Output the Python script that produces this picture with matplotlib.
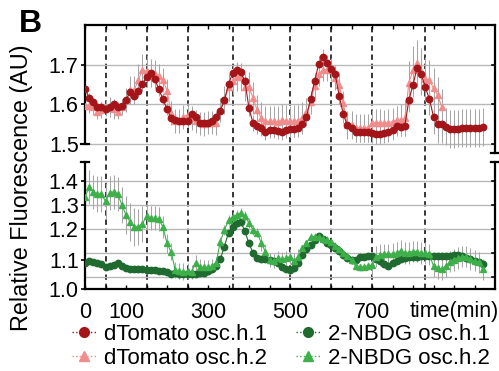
import numpy as np
import matplotlib
matplotlib.use('Agg')
import matplotlib.pyplot as plt
from matplotlib.lines import Line2D
import matplotlib.transforms as mtrans

plt.rcParams['font.family'] = ['Liberation Sans', 'DejaVu Sans']

# ---------------- data ----------------
time = np.arange(0, 980, 10)  # sampling grid (min)

tomato_h1 = [1.640, 1.617, 1.605, 1.594, 1.594, 1.589, 1.593, 1.600, 1.594, 1.596,
             1.611, 1.631, 1.622, 1.635, 1.651, 1.670, 1.679, 1.665, 1.638, 1.614,
             1.588, 1.565, 1.561, 1.558, 1.558, 1.559, 1.575, 1.568, 1.554, 1.552,
             1.552, 1.559, 1.567, 1.584, 1.611, 1.651, 1.679, 1.688, 1.681, 1.659,
             1.590, 1.552, 1.546, 1.540, 1.531, 1.534, 1.535, 1.533, 1.531, 1.535,
             1.538, 1.538, 1.541, 1.551, 1.567, 1.613, 1.659, 1.702, 1.719, 1.704,
             1.690, 1.677, 1.622, 1.575, 1.547, 1.541, 1.531, 1.530, 1.530, 1.530,
             1.527, 1.524, 1.524, 1.527, 1.531, 1.535, 1.546, 1.544, 1.546, 1.611,
             1.650, 1.692, 1.677, 1.643, 1.614, 1.569, 1.551, 1.550, 1.544, 1.537,
             1.537, 1.539, 1.541, 1.540, 1.541, 1.541, 1.541, 1.543]
tomato_h1_err = [0.012, 0.012, 0.012, 0.013, 0.012, 0.012, 0.013, 0.012, 0.012, 0.013,
                 0.015, 0.016, 0.015, 0.016, 0.018, 0.020, 0.020, 0.018, 0.016, 0.015,
                 0.015, 0.015, 0.014, 0.014, 0.015, 0.015, 0.015, 0.015, 0.015, 0.015,
                 0.015, 0.015, 0.015, 0.016, 0.018, 0.020, 0.020, 0.020, 0.018, 0.018,
                 0.020, 0.020, 0.020, 0.020, 0.020, 0.020, 0.020, 0.020, 0.020, 0.020,
                 0.020, 0.020, 0.020, 0.020, 0.020, 0.020, 0.020, 0.020, 0.020, 0.020,
                 0.020, 0.020, 0.022, 0.022, 0.022, 0.025, 0.025, 0.025, 0.025, 0.025,
                 0.025, 0.025, 0.025, 0.025, 0.025, 0.025, 0.025, 0.025, 0.025, 0.030,
                 0.030, 0.030, 0.030, 0.035, 0.040, 0.045, 0.048, 0.048, 0.048, 0.048,
                 0.048, 0.048, 0.048, 0.048, 0.048, 0.048, 0.048, 0.048]

tomato_h2 = [1.597, 1.597, 1.593, 1.582, 1.586, 1.590, 1.594, 1.589, 1.582, 1.594,
             1.611, 1.636, 1.636, 1.662, 1.687, 1.685, 1.679, 1.677, 1.672, 1.662,
             1.635, 1.578, 1.558, 1.558, 1.569, 1.573, 1.565, 1.557, 1.552, 1.551,
             1.554, 1.554, 1.552, 1.586, 1.611, 1.643, 1.659, 1.670, 1.670, 1.643,
             1.643, 1.616, 1.585, 1.565, 1.557, 1.557, 1.557, 1.555, 1.560, 1.558,
             1.557, 1.558, 1.558, 1.565, 1.580, 1.605, 1.647, 1.677, 1.688, 1.688,
             1.688, 1.666, 1.649, 1.603, 1.548, 1.548, 1.541, 1.541, 1.541, 1.541,
             1.552, 1.554, 1.554, 1.552, 1.554, 1.556, 1.560, 1.560, 1.565, 1.655,
             1.687, 1.704, 1.683, 1.664, 1.662, 1.641, 1.624, 1.594]
tomato_h2_err = [0.020, 0.020, 0.020, 0.020, 0.020, 0.020, 0.025, 0.025, 0.020, 0.020,
                 0.030, 0.035, 0.035, 0.040, 0.040, 0.040, 0.035, 0.035, 0.030, 0.030,
                 0.030, 0.030, 0.030, 0.030, 0.030, 0.030, 0.030, 0.030, 0.030, 0.030,
                 0.030, 0.030, 0.030, 0.030, 0.035, 0.035, 0.035, 0.035, 0.035, 0.035,
                 0.040, 0.040, 0.040, 0.040, 0.040, 0.040, 0.040, 0.040, 0.040, 0.040,
                 0.040, 0.040, 0.040, 0.040, 0.035, 0.030, 0.030, 0.030, 0.030, 0.030,
                 0.030, 0.030, 0.030, 0.030, 0.035, 0.035, 0.035, 0.035, 0.035, 0.035,
                 0.035, 0.035, 0.035, 0.035, 0.035, 0.035, 0.035, 0.040, 0.045, 0.055,
                 0.060, 0.060, 0.060, 0.055, 0.050, 0.050, 0.045, 0.045]

nbdg_h1 = [1.060, 1.066, 1.064, 1.060, 1.055, 1.043, 1.046, 1.050, 1.060, 1.046,
           1.039, 1.033, 1.032, 1.032, 1.032, 1.029, 1.029, 1.029, 1.026, 1.025,
           1.022, 1.011, 1.015, 1.011, 1.011, 1.011, 1.011, 1.012, 1.015, 1.018,
           1.025, 1.032, 1.046, 1.074, 1.127, 1.185, 1.210, 1.225, 1.230, 1.190,
           1.140, 1.100, 1.080, 1.077, 1.077, 1.071, 1.066, 1.060, 1.043, 1.033,
           1.029, 1.036, 1.057, 1.091, 1.115, 1.133, 1.154, 1.171, 1.157, 1.143,
           1.133, 1.119, 1.110, 1.091, 1.080, 1.071, 1.071, 1.085, 1.085, 1.087,
           1.088, 1.077, 1.066, 1.055, 1.046, 1.060, 1.066, 1.077, 1.081, 1.085,
           1.085, 1.085, 1.087, 1.087, 1.087, 1.088, 1.088, 1.088, 1.088, 1.088,
           1.093, 1.093, 1.088, 1.081, 1.074, 1.067, 1.061, 1.055]
nbdg_h1_err = [0.008] * 33 + [0.012] * 8 + [0.008] * 29 + [0.012] * 28

nbdg_h2 = [1.333, 1.375, 1.355, 1.345, 1.345, 1.315, 1.350, 1.355, 1.345, 1.300,
           1.258, 1.230, 1.209, 1.209, 1.222, 1.254, 1.244, 1.244, 1.240, 1.209,
           1.140, 1.105, 1.029, 1.025, 1.022, 1.025, 1.022, 1.060, 1.043, 1.040,
           1.040, 1.045, 1.060, 1.147, 1.196, 1.237, 1.251, 1.258, 1.268, 1.254,
           1.224, 1.196, 1.185, 1.140, 1.106, 1.071, 1.067, 1.078, 1.075, 1.078,
           1.085, 1.068, 1.085, 1.119, 1.140, 1.168, 1.168, 1.168, 1.157, 1.154,
           1.144, 1.129, 1.115, 1.099, 1.087, 1.071, 1.046, 1.040, 1.043, 1.046,
           1.050, 1.085, 1.092, 1.094, 1.094, 1.096, 1.099, 1.110, 1.099, 1.101,
           1.106, 1.106, 1.099, 1.099, 1.094, 1.046, 1.036, 1.032, 1.046, 1.064,
           1.071, 1.078, 1.085, 1.085, 1.075, 1.068, 1.061, 1.032]
nbdg_h2_err = ([0.070, 0.070, 0.070, 0.075, 0.075, 0.075, 0.070, 0.070, 0.070, 0.075,
                0.080, 0.080, 0.080, 0.075, 0.075, 0.060, 0.050, 0.050, 0.050, 0.045,
                0.040, 0.035, 0.035, 0.035, 0.035, 0.035, 0.030, 0.030, 0.030, 0.030,
                0.030, 0.030, 0.025]
               + [0.020] * 10 + [0.030] * 10 + [0.015] * 17 + [0.045] * 28)

series_labels = ['dTomato osc.h.1', 'dTomato osc.h.2', '2-NBDG osc.h.1', '2-NBDG osc.h.2']
event_times = [50, 150, 250, 360, 500, 600, 700, 830]
xtick_pos = list(range(0, 1000, 50))
xtick_text = {0: '0', 100: '100', 300: '300', 500: '500', 700: '700', 900: 'time(min)'}
top_grid = [1.5, 1.6, 1.7]
bot_grid = [1.0, 1.1, 1.2, 1.3, 1.4]
top_tick_pos = [1.5, 1.6, 1.7]
top_tick_lab = ['1.5', '1.6', '1.7']
bot_tick_pos = [0.95, 1.071, 1.2, 1.3, 1.4]
bot_tick_lab = ['1.0', '1.1', '1.2', '1.3', '1.4']

# ---------------- style ----------------
C_RED = '#a31519'
C_PINK = '#f08c8c'
C_DGREEN = '#1f6a2e'
C_LGREEN = '#3db04a'
C_ERR = '#a6a6a6'
FS = 15.5

W, H = 499, 371
fig = plt.figure(figsize=(W / 100, H / 100), dpi=100)


def frac(l, t, r, b):
    return [l / W, 1 - b / H, (r - l) / W, (b - t) / H]


ax_top = fig.add_axes(frac(85, 25, 495, 153))
ax_bot = fig.add_axes(frac(85, 162, 495, 289))

t = np.asarray(time)
n2 = len(tomato_h2)

ax_top.errorbar(t[:n2], tomato_h2, yerr=tomato_h2_err, fmt='none', ecolor=C_ERR, elinewidth=0.75, zorder=1)
ax_top.errorbar(t, tomato_h1, yerr=tomato_h1_err, fmt='none', ecolor=C_ERR, elinewidth=0.75, zorder=1)
ax_top.plot(t[:n2], tomato_h2, ls='-', lw=0.8, color=C_PINK, marker='^', ms=4.5, zorder=3)
ax_top.plot(t, tomato_h1, ls='-', lw=0.8, color=C_RED, marker='o', ms=4.6, zorder=4)

ax_bot.errorbar(t, nbdg_h2, yerr=nbdg_h2_err, fmt='none', ecolor=C_ERR, elinewidth=0.75, zorder=1)
ax_bot.errorbar(t, nbdg_h1, yerr=nbdg_h1_err, fmt='none', ecolor=C_ERR, elinewidth=0.75, zorder=1)
ax_bot.plot(t, nbdg_h1, ls='-', lw=0.8, color=C_DGREEN, marker='o', ms=4.6, zorder=3)
ax_bot.plot(t, nbdg_h2, ls='-', lw=0.8, color=C_LGREEN, marker='^', ms=4.5, zorder=4)

ax_top.set_ylim(1.477, 1.801)
ax_bot.set_ylim(0.95, 1.479)

for ax, grid in ((ax_top, top_grid), (ax_bot, bot_grid)):
    ax.set_xlim(0, 1000)
    ax.patch.set_visible(False)
    for g in grid:
        ax.axhline(g, color='#b8b8b8', lw=1.0, zorder=0)
    for s in ax.spines.values():
        s.set_linewidth(1.6)
    ax.set_xticks(xtick_pos)
    ax.tick_params(axis='x', direction='in', length=3, width=1.0, top=True, bottom=True)
    ax.tick_params(axis='y', direction='out', length=3, width=1.2, labelsize=FS, pad=1.5)

ax_top.spines['bottom'].set_visible(False)
ax_top.spines['left'].set_bounds(1.5, 1.801)
ax_top.tick_params(axis='x', labelbottom=False, bottom=False)
ax_top.set_yticks(top_tick_pos)
ax_top.set_yticklabels(top_tick_lab)

ax_bot.spines['top'].set_visible(False)
ax_bot.tick_params(axis='x', top=False, labelsize=FS, pad=9)
ax_bot.set_xticklabels([xtick_text.get(v, '') for v in xtick_pos])
ax_bot.set_yticks(bot_tick_pos)
ax_bot.set_yticklabels(bot_tick_lab)

# right side inward ticks at grid lines
for ax, grid in ((ax_top, top_grid), (ax_bot, bot_grid)):
    tr = mtrans.blended_transform_factory(ax.transAxes, ax.transData)
    for g in grid:
        ax.plot([1 - 0.008, 1], [g, g], color='black', lw=1.2, transform=tr, clip_on=False, zorder=5)

# break caps
d = 0.009
tr_top = mtrans.blended_transform_factory(ax_top.transAxes, ax_top.transData)
ax_top.plot([-d, d], [1.5, 1.5], color='black', lw=1.6, transform=tr_top, clip_on=False)
ax_top.plot([1 - d, 1 + d], [0, 0], color='black', lw=1.6, transform=ax_top.transAxes, clip_on=False)
ax_bot.plot([-d, d], [1, 1], color='black', lw=1.6, transform=ax_bot.transAxes, clip_on=False)
ax_bot.plot([1 - d, 1 + d], [1, 1], color='black', lw=1.6, transform=ax_bot.transAxes, clip_on=False)

# dashed event lines spanning both panels
trv = mtrans.blended_transform_factory(ax_bot.transData, fig.transFigure)
for ev in event_times:
    fig.add_artist(Line2D([ev, ev], [1 - 289 / H, 1 - 25 / H], transform=trv,
                          color='black', lw=1.1, ls=(0, (3.5, 2.5)), zorder=-1))

fig.text(22 / W, 1 - 188 / H, 'Relative Fluorescence (AU)', rotation=90,
         ha='center', va='center', fontsize=16.8)
fig.text(30 / W, 1 - 24 / H, 'B', fontsize=23, fontweight='bold', ha='center', va='center')

handles = [
    Line2D([], [], color=C_RED, ls=':', lw=1, marker='o', ms=7),
    Line2D([], [], color=C_PINK, ls=':', lw=1, marker='^', ms=7),
    Line2D([], [], color=C_DGREEN, ls=':', lw=1, marker='o', ms=7),
    Line2D([], [], color=C_LGREEN, ls=':', lw=1, marker='^', ms=7),
]
fig.legend(handles, series_labels, ncol=2, loc='upper left',
           bbox_to_anchor=(72 / W, 1 - 324 / H), frameon=False, fontsize=16,
           handlelength=1.1, handletextpad=0.35, columnspacing=1.3,
           labelspacing=0.12, borderpad=0, borderaxespad=0)

fig.savefig('out.png', dpi=100)
